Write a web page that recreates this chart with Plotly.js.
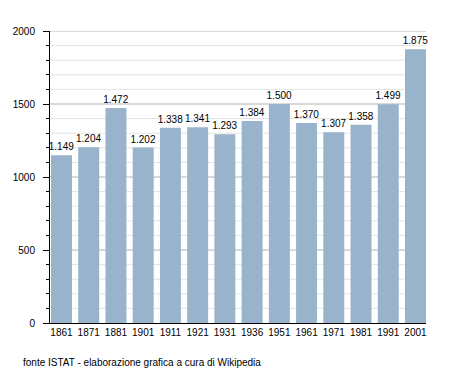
<!DOCTYPE html>
<html><head><meta charset="utf-8">
<script src="https://cdn.plot.ly/plotly-3.0.1.min.js"></script>
<style>html,body{margin:0;padding:0;background:#fff}#c{width:455px;height:373px}</style>
</head><body><div id="c"></div>
<script>
var years = ["1861","1871","1881","1901","1911","1921","1931","1936","1951","1961","1971","1981","1991","2001"];
var population = [1149,1204,1472,1202,1338,1341,1293,1384,1500,1370,1307,1358,1499,1875];
var yTicks = [0,500,1000,1500,2000];
var minorStep = 100;
var note = "fonte ISTAT - elaborazione grafica a cura di Wikipedia";

var idx = years.map(function(_, i){ return i; });
var font = {family: "Liberation Sans, Arial, sans-serif", size: 10, color: "#000"};

var shapes = [];
for (var v = minorStep; v <= yTicks[yTicks.length - 1]; v += minorStep) {
  var major = yTicks.indexOf(v) >= 0;
  shapes.push({type: "line", layer: "below", xref: "paper", x0: 0, x1: 1, yref: "y", y0: v, y1: v,
    line: {color: major ? "#b4b4b4" : "#e4e4e4", width: 1}});
}

Plotly.newPlot("c", [{
  type: "bar",
  x: idx,
  y: population,
  width: 0.77,
  marker: {color: "#99b3cc", line: {width: 0}},
  texttemplate: "%{y:,}",
  textposition: "outside",
  constraintext: "none",
  cliponaxis: false,
  textfont: font,
  hoverinfo: "none"
}], {
  width: 455, height: 373,
  margin: {l: 50, r: 29, t: 31, b: 50, pad: 0},
  paper_bgcolor: "#fff", plot_bgcolor: "#fff",
  separators: ",.",
  font: font,
  showlegend: false,
  shapes: shapes,
  xaxis: {
    range: [-0.422, 13.386],
    tickmode: "array", tickvals: idx, ticktext: years,
    showgrid: false, zeroline: false,
    showline: true, linecolor: "#000", linewidth: 1,
    ticks: "", tickfont: font, fixedrange: true
  },
  yaxis: {
    range: [0, 2000],
    tickmode: "array", tickvals: yTicks,
    showgrid: false,
    zeroline: false,
    showline: true, linecolor: "#000", linewidth: 1,
    ticks: "outside", ticklen: 6, tickcolor: "#000", tickwidth: 1,
    ticklabelstandoff: 6,
    minor: {dtick: minorStep, ticks: "outside", ticklen: 3, tickcolor: "#000", showgrid: false},
    tickfont: font, fixedrange: true
  },
  annotations: [{
    text: note, xref: "paper", yref: "paper",
    x: -0.0771, y: -0.1336, xanchor: "left", yanchor: "middle",
    showarrow: false, font: font
  }]
}, {staticPlot: true, displayModeBar: false});
</script></body></html>
